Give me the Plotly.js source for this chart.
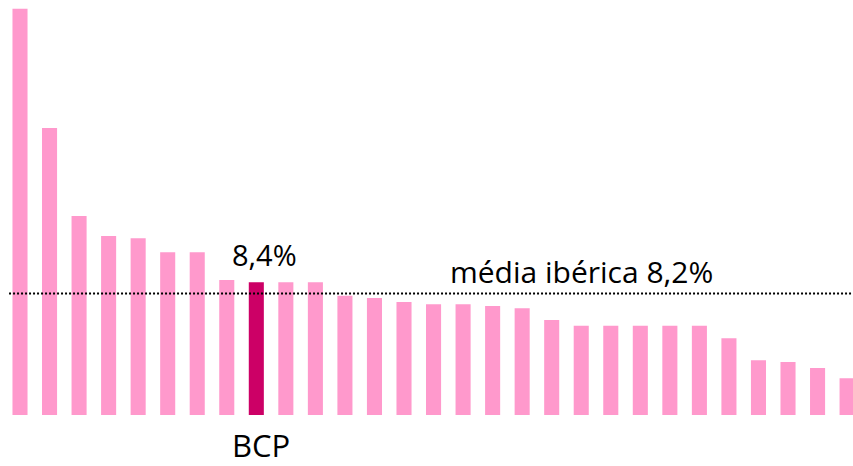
<!DOCTYPE html>
<html>
<head>
<meta charset="utf-8">
<script src="https://cdn.plot.ly/plotly-3.0.1.min.js"></script>
<style>
    html, body { margin: 0; padding: 0; background: #ffffff; }
    #grafico { width: 853px; height: 466px; }
</style>
</head>
<body>
<div id="grafico"></div>
<script>
/* global Plotly */

// posição de cada banco no ranking (o BCP é o 9º)
var posicoes = [1, 2, 3, 4, 5, 6, 7, 8, 9, 10, 11, 12, 13, 14, 15,
                16, 17, 18, 19, 20, 21, 22, 23, 24, 25, 26, 27, 28, 29];

// valores em %
var valores = [13.24, 11.13, 9.57, 9.22, 9.18, 8.93, 8.93, 8.44, 8.40, 8.40,
               8.40, 8.16, 8.12, 8.05, 8.01, 8.01, 7.98, 7.94, 7.73, 7.63,
               7.63, 7.63, 7.63, 7.63, 7.41, 7.02, 6.99, 6.88, 6.70];

var posicaoBCP = 9;
var nomeBCP = 'BCP';
var valorBCP = 8.4;
var textoBCP = '8,4%';

var mediaIberica = 8.2;
var textoMedia = 'média ibérica 8,2%';

function desenhar() {
    var cores = [];
    for (var i = 0; i < posicoes.length; i++) {
        cores[i] = (posicoes[i] === posicaoBCP) ? '#CC0066' : '#FF99CC';
    }

    var dados = [{
        x: posicoes,
        y: valores,
        type: 'bar',
        width: 0.51,
        marker: {color: cores, line: {width: 0}},
        hoverinfo: 'none'
    }];

    var fonte = 'Open Sans, Noto Sans, sans-serif';

    var estilo = {
        width: 853,
        height: 466,
        margin: {l: 0, r: 0, t: 0, b: 51, pad: 0},
        paper_bgcolor: '#ffffff',
        plot_bgcolor: '#ffffff',
        showlegend: false,
        xaxis: {
            range: [0.323, 29.2],
            showgrid: false,
            zeroline: false,
            showline: false,
            showticklabels: false,
            ticks: ''
        },
        yaxis: {
            range: [6.05, 13.395],
            showgrid: false,
            zeroline: false,
            showline: false,
            showticklabels: false,
            ticks: ''
        },
        shapes: [{
            type: 'line',
            xref: 'paper',
            yref: 'y',
            x0: 0.0106,
            x1: 1,
            y0: mediaIberica,
            y1: mediaIberica,
            line: {color: '#000000', width: 2, dash: '2px,2px'}
        }],
        annotations: [{
            x: posicaoBCP,
            y: valorBCP,
            xref: 'x',
            yref: 'y',
            text: textoBCP,
            showarrow: false,
            xanchor: 'center',
            yanchor: 'bottom',
            xshift: 8,
            yshift: 6,
            font: {family: fonte, size: 29, color: '#000000'}
        }, {
            x: 20,
            y: mediaIberica,
            xref: 'x',
            yref: 'y',
            text: textoMedia,
            showarrow: false,
            xanchor: 'center',
            yanchor: 'bottom',
            yshift: 0,
            font: {family: fonte, size: 30, color: '#000000'}
        }, {
            x: posicaoBCP,
            y: 0,
            xref: 'x',
            yref: 'paper',
            text: nomeBCP,
            showarrow: false,
            xanchor: 'center',
            yanchor: 'middle',
            xshift: 5,
            yshift: -30,
            font: {family: fonte, size: 31, color: '#000000'}
        }]
    };

    Plotly.newPlot('grafico', dados, estilo, {staticPlot: true, displayModeBar: false});
}

desenhar();
</script>
</body>
</html>
